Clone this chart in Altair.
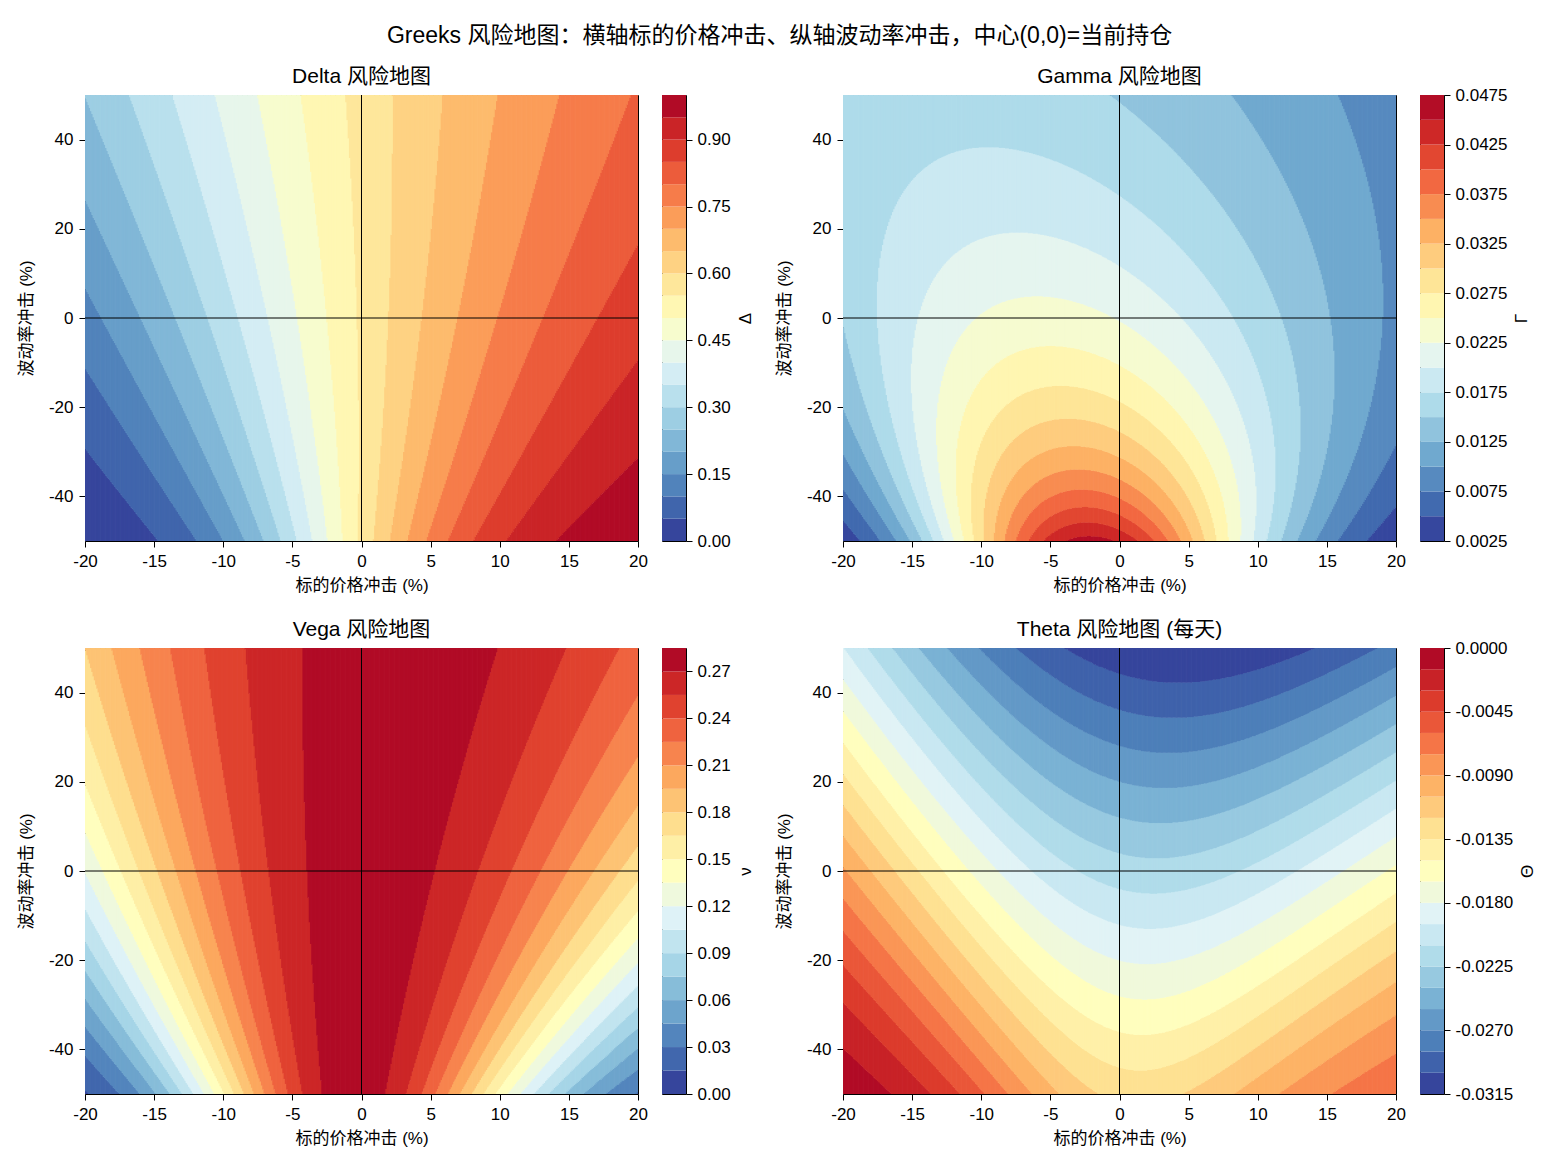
import math
import numpy as np
import pandas as pd
import altair as alt

alt.data_transformers.disable_max_rows()

# ---- model parameters (Black-Scholes call) ----
SPOT = 100.0
STRIKE = 100.0
MATURITY = 0.5
RATE = 0.02
VOL = 0.25

# ---- axes ----
price_shock_range = [-20, 20]
vol_shock_range = [-50, 50]
x_ticks = [-20, -15, -10, -5, 0, 5, 10, 15, 20]
y_ticks = [-40, -20, 0, 20, 40]

suptitle = "Greeks 风险地图：横轴标的价格冲击、纵轴波动率冲击，中心(0,0)=当前持仓"
panel_titles = ["Delta 风险地图", "Gamma 风险地图", "Vega 风险地图", "Theta 风险地图 (每天)"]
cbar_titles = ["Δ", "Γ", "ν", "Θ"]
x_title = "标的价格冲击 (%)"
y_title = "波动率冲击 (%)"

# contour levels: start, step, number of bands
level_start = [0.0, 0.0025, 0.0, -0.0315]
level_step = [0.05, 0.0025, 0.015, 0.0015]
level_count = [20, 18, 19, 21]
cbar_ticks = [
    [0.0, 0.15, 0.30, 0.45, 0.60, 0.75, 0.90],
    [0.0025, 0.0075, 0.0125, 0.0175, 0.0225, 0.0275, 0.0325, 0.0375, 0.0425, 0.0475],
    [0.0, 0.03, 0.06, 0.09, 0.12, 0.15, 0.18, 0.21, 0.24, 0.27],
    [-0.0315, -0.0270, -0.0225, -0.0180, -0.0135, -0.0090, -0.0045, 0.0],
]
cbar_formats = [".2f", ".4f", ".2f", ".4f"]

RDYLBU = [
    (0.6470588235294118, 0.0, 0.14901960784313725),
    (0.8431372549019608, 0.18823529411764706, 0.15294117647058825),
    (0.9568627450980393, 0.42745098039215684, 0.2627450980392157),
    (0.9921568627450981, 0.6823529411764706, 0.3803921568627451),
    (0.996078431372549, 0.8784313725490196, 0.5647058823529412),
    (1.0, 1.0, 0.7490196078431373),
    (0.8784313725490196, 0.9529411764705882, 0.9725490196078431),
    (0.6705882352941176, 0.8509803921568627, 0.9137254901960784),
    (0.4549019607843137, 0.6784313725490196, 0.8196078431372549),
    (0.27058823529411763, 0.4588235294117647, 0.7058823529411765),
    (0.19215686274509805, 0.21176470588235294, 0.5843137254901961),
]


def cmap_r(x):
    idx = min(int(x * 256), 255)
    u = 1.0 - idx / 255.0
    pos = u * 10
    k = min(int(pos), 9)
    f = pos - k
    c = [RDYLBU[k][j] * (1 - f) + RDYLBU[k + 1][j] * f for j in range(3)]
    return "#%02x%02x%02x" % tuple(int(round(v * 255)) for v in c)


# ---- grid of shocks ----
NX, NY = 440, 800
xe = np.linspace(price_shock_range[0], price_shock_range[1], NX + 1)
ye = np.linspace(vol_shock_range[0], vol_shock_range[1], NY + 1)
xc = (xe[:-1] + xe[1:]) / 2
yc = (ye[:-1] + ye[1:]) / 2
P, V = np.meshgrid(xc, yc)

erf = np.vectorize(math.erf)
S = SPOT * (1 + P / 100.0)
sig = VOL * (1 + V / 100.0)
sqT = math.sqrt(MATURITY)
d1 = (np.log(S / STRIKE) + (RATE + 0.5 * sig ** 2) * MATURITY) / (sig * sqT)
d2 = d1 - sig * sqT
Ncdf = lambda z: 0.5 * (1 + erf(z / math.sqrt(2)))
pdf = np.exp(-0.5 * d1 ** 2) / math.sqrt(2 * math.pi)
delta = Ncdf(d1)
gamma = pdf / (S * sig * sqT)
vega = S * pdf * sqT / 100.0
theta = (-S * pdf * sig / (2 * sqT) - RATE * STRIKE * math.exp(-RATE * MATURITY) * Ncdf(d2)) / 365.0
fields = [delta, gamma, vega, theta]


def runs(band2d):
    rows = []
    dx = xe[1] - xe[0]
    dy = ye[1] - ye[0]
    for i in range(NX):
        col = band2d[:, i]
        ch = np.flatnonzero(np.diff(col)) + 1
        st = np.concatenate([[0], ch])
        en = np.concatenate([ch, [NY]])
        x0 = xe[i]
        x1 = min(xe[i + 1] + 0.6 * dx, xe[-1])
        for s, e in zip(st, en):
            y0 = ye[s]
            y1 = min(ye[e] + 0.5 * dy, ye[-1])
            rows.append((round(x0, 3), round(x1, 3), round(y0, 3), round(y1, 3), int(col[s])))
    return pd.DataFrame(rows, columns=["x", "x2", "y", "y2", "band"])


FONT = "'Liberation Sans', Arial, 'Noto Sans CJK SC', sans-serif"
MINUS_FIX = "replace(datum.label, '\u2212', '-')"
W, H = 553, 446
CB_W = 24
GAP_W = 109  # empty column between a colour bar and the next panel

xscale = alt.Scale(domain=price_shock_range, nice=False, zero=False)
yscale = alt.Scale(domain=vol_shock_range, nice=False, zero=False)
xaxis = alt.Axis(values=x_ticks, title=x_title, labelExpr=MINUS_FIX, labelFlush=False,
                 titlePadding=8, labelPadding=6)
yaxis = alt.Axis(values=y_ticks, title=y_title, labelExpr=MINUS_FIX, labelFlush=False,
                 titlePadding=13, labelPadding=6)


def panel(k):
    n = level_count[k]
    lev = [round(level_start[k] + i * level_step[k], 6) for i in range(n + 1)]
    band = np.clip(np.floor((fields[k] - lev[0]) / level_step[k]), 0, n - 1).astype(int)
    df = runs(band)
    colors = [cmap_r((i + 0.5) / n) for i in range(n)]
    cscale = alt.Scale(domain=list(range(n)), range=colors)

    heat = alt.Chart(df).mark_rect().encode(
        x=alt.X("x:Q", scale=xscale, axis=xaxis),
        x2="x2:Q",
        y=alt.Y("y:Q", scale=yscale, axis=yaxis),
        y2="y2:Q",
        color=alt.Color("band:O", scale=cscale, legend=None),
    )
    zero = pd.DataFrame({"z": [0]})
    vline = alt.Chart(zero).mark_rule(color="black", strokeWidth=1).encode(
        x=alt.X("z:Q", scale=xscale, axis=xaxis))
    hline = alt.Chart(zero).mark_rule(color="black", strokeWidth=1).encode(
        y=alt.Y("z:Q", scale=yscale, axis=yaxis))
    main = alt.layer(heat, vline, hline).properties(
        width=W, height=H,
        title=alt.TitleParams(panel_titles[k], fontSize=21, offset=8, frame="group",
                              anchor="middle", font=FONT, fontWeight="normal"),
    )

    cb = pd.DataFrame({"lo": lev[:-1], "hi": lev[1:], "band": list(range(n)),
                       "a": [0] * n, "b": [1] * n})
    cbar = alt.Chart(cb).mark_rect().encode(
        x=alt.X("a:Q", scale=alt.Scale(domain=[0, 1], nice=False, zero=False), axis=None),
        x2="b:Q",
        y=alt.Y("lo:Q", scale=alt.Scale(domain=[lev[0], lev[-1]], nice=False, zero=False),
                axis=alt.Axis(orient="right", values=cbar_ticks[k], format=cbar_formats[k],
                              labelExpr=MINUS_FIX, title=cbar_titles[k], titleAngle=270,
                              titleBaseline="top", titlePadding=7, labelPadding=5,
                              labelFlush=False)),
        y2="hi:Q",
        color=alt.Color("band:O", scale=cscale, legend=None),
    ).properties(width=CB_W, height=H)
    return main, cbar


def spacer():
    return alt.Chart(pd.DataFrame({"s": [0]})).mark_point(opacity=0).encode(
        x=alt.X("s:Q", axis=None), y=alt.Y("s:Q", axis=None)
    ).properties(width=GAP_W, height=H, view=alt.ViewBackground(strokeOpacity=0))


cells = []
for row in [(0, 1), (2, 3)]:
    m0, c0 = panel(row[0])
    m1, c1 = panel(row[1])
    cells += [m0, c0, spacer(), m1, c1]

chart = alt.concat(
    *cells, columns=5, bounds="flush", spacing={"row": 107, "column": 24}
).resolve_scale(
    color="independent"
).properties(
    title=alt.TitleParams(suptitle, fontSize=23, offset=17, anchor="middle", dx=3,
                          font=FONT, fontWeight="normal"),
    padding={"left": 16, "top": 25, "right": 10, "bottom": 10},
    background="white",
).configure_view(
    stroke="black", strokeWidth=1
).configure_axis(
    labelFont=FONT, titleFont=FONT, labelFontSize=17, titleFontSize=17,
    labelColor="black", titleColor="black", tickColor="black", tickSize=6,
    tickWidth=1, domain=False, grid=False, titleFontWeight="normal",
).configure_title(color="black")

chart.save("out.html", embed_options={"renderer": "svg", "actions": False})
